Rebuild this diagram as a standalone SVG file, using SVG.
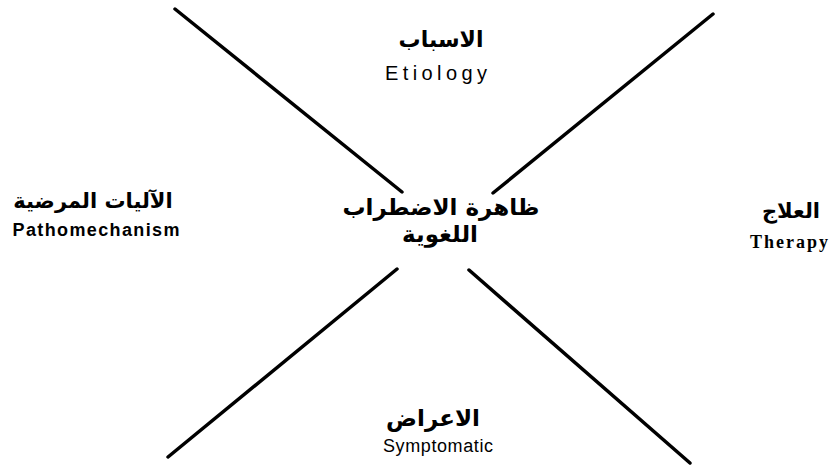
<svg xmlns="http://www.w3.org/2000/svg" width="837" height="467" viewBox="0 0 837 467">
<style>
.bg{fill:#ffffff}
.ln{stroke:#000;stroke-width:3.5;stroke-linecap:round;fill:none}
.ar{font-family:"DejaVu Sans",sans-serif;font-weight:bold;fill:#000;text-anchor:middle;direction:rtl}
.en{font-family:"Liberation Sans",Arial,sans-serif;fill:#000;text-anchor:middle}
.ens{font-family:"Liberation Serif","Times New Roman",serif;fill:#000;text-anchor:middle}
</style>
<rect class="bg" x="0" y="0" width="837" height="467"/>
<g id="connectors">
<line class="ln" x1="175" y1="9" x2="402" y2="192"/>
<line class="ln" x1="713" y1="14" x2="493" y2="193"/>
<line class="ln" x1="168" y1="457" x2="397" y2="269"/>
<line class="ln" x1="469" y1="270" x2="690" y2="463"/>
</g>
<g id="center">
<text class="ar" x="441" y="215" font-size="23">ظاهرة الاضطراب</text>
<text class="ar" x="440" y="242" font-size="23">اللغوية</text>
</g>
<g id="etiology">
<text class="ar" x="441" y="47" font-size="22">الاسباب</text>
<text class="en" x="436" y="80" font-size="20" textLength="102" lengthAdjust="spacing">Etiology</text>
</g>
<g id="pathomechanism">
<text class="ar" x="93" y="208" font-size="21">الآليات المرضية</text>
<text class="en" x="96" y="236" font-size="18" font-weight="bold" textLength="167" lengthAdjust="spacing">Pathomechanism</text>
</g>
<g id="therapy">
<text class="ar" x="791" y="218" font-size="21">العلاج</text>
<text class="ens" x="789" y="248" font-size="18" font-weight="bold" textLength="78" lengthAdjust="spacing">Therapy</text>
</g>
<g id="symptomatic">
<text class="ar" x="433" y="426" font-size="23">الاعراض</text>
<text class="en" x="438" y="452" font-size="18" textLength="110" lengthAdjust="spacing">Symptomatic</text>
</g>
</svg>
